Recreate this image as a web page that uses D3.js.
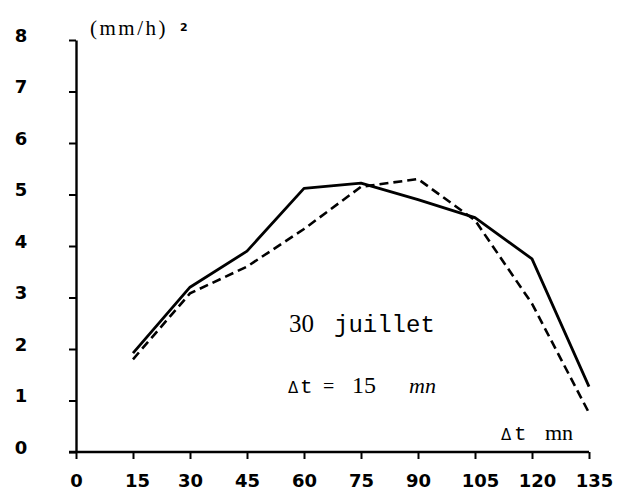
<!DOCTYPE html>
<html>
<head>
<meta charset="utf-8">
<script src="https://cdn.jsdelivr.net/npm/d3@7"></script>
<style>
  html, body { margin: 0; padding: 0; background: #fff; }
  svg { display: block; }
</style>
</head>
<body>
<svg id="chart" width="637" height="496"></svg>
<script>
// ---- data ----
const minutes = [15, 30, 45, 60, 75, 90, 105, 120, 135];
const solidSeries = [1.92, 3.2, 3.9, 5.12, 5.22, 4.9, 4.55, 3.75, 1.27];
const dashedSeries = [1.8, 3.08, 3.6, 4.33, 5.15, 5.3, 4.5, 2.88, 0.76];
const xTicks = [0, 15, 30, 45, 60, 75, 90, 105, 120, 135];
const yTicks = [0, 1, 2, 3, 4, 5, 6, 7, 8];

const svg = d3.select("#chart");
const x = d3.scaleLinear().domain([0, 135]).range([76, 589]);
const y = d3.scaleLinear().domain([0, 8]).range([452, 40]);

const tickFont = "'DejaVu Sans', sans-serif";

// x axis
const gx = svg.append("g")
  .attr("transform", `translate(0,${y(0)})`)
  .call(d3.axisBottom(x).tickValues(xTicks).tickSize(7).tickSizeOuter(0).tickFormat(d3.format("d")));
gx.select(".domain").attr("stroke", "#000").attr("stroke-width", 2.4)
  .attr("d", `M${x(0) - 7},0H${x(135)}`);
gx.selectAll(".tick line").attr("stroke", "#000").attr("stroke-width", 2);
gx.selectAll(".tick text")
  .attr("y", 22).attr("dy", "0.71em")
  .attr("dx", d => (d >= 100 ? 5 : (d === 15 ? 4 : 0)))
  .attr("fill", "#000")
  .style("font-family", tickFont).style("font-weight", "bold").style("font-size", "18px");

// y axis
const gy = svg.append("g")
  .attr("transform", `translate(${x(0)},0)`)
  .call(d3.axisLeft(y).tickValues(yTicks).tickSize(7).tickSizeOuter(0).tickFormat(d3.format("d")));
gy.select(".domain").attr("stroke", "#000").attr("stroke-width", 2.4);
gy.selectAll(".tick line").attr("stroke", "#000").attr("stroke-width", 2);
gy.selectAll(".tick text")
  .attr("x", -55).attr("dy", "0.06em")
  .attr("text-anchor", "middle")
  .attr("fill", "#000")
  .style("font-family", tickFont).style("font-weight", "bold").style("font-size", "18px");

// lines
const line = d3.line().x((d, i) => x(minutes[i])).y(d => y(d));
svg.append("path").datum(dashedSeries)
  .attr("d", line).attr("fill", "none").attr("stroke", "#000")
  .attr("stroke-width", 2.6).attr("stroke-dasharray", "9,5");
svg.append("path").datum(solidSeries)
  .attr("d", line).attr("fill", "none").attr("stroke", "#000")
  .attr("stroke-width", 2.8).attr("stroke-linejoin", "round");

// unit label
const serif = "'Liberation Serif', 'Times New Roman', serif";
const mono = "'Liberation Mono', 'Courier New', monospace";
svg.append("text").attr("x", 90).attr("y", 35)
  .style("font-family", serif).style("font-size", "21px").style("letter-spacing", "2.5px")
  .text("(mm/h)");
svg.append("text").attr("x", 180).attr("y", 31)
  .style("font-family", tickFont).style("font-weight", "bold").style("font-size", "11px")
  .text("2");

// annotations
const t1 = svg.append("text").attr("y", 332).style("font-size", "24px");
t1.append("tspan").attr("x", 289).style("font-family", serif).style("font-size", "25px").text("30");
t1.append("tspan").attr("x", 334).style("font-family", mono).text("juillet");

const t2 = svg.append("text").attr("y", 393).style("font-size", "22px");
t2.append("tspan").attr("x", 288).style("font-family", "'DejaVu Sans', sans-serif").style("font-size", "15px").text("Δ");
t2.append("tspan").attr("x", 300).style("font-family", mono).style("font-size", "21px").text("t");
t2.append("tspan").attr("x", 323).style("font-family", serif).style("font-size", "20px").text("=");
t2.append("tspan").attr("x", 352).style("font-family", serif).style("font-size", "24px").text("15");
t2.append("tspan").attr("x", 409).style("font-family", serif).style("font-style", "italic").style("font-size", "22px").text("mn");

const t3 = svg.append("text").attr("y", 440).style("font-size", "20px");
t3.append("tspan").attr("x", 501).style("font-family", "'DejaVu Sans', sans-serif").style("font-size", "15px").text("Δ");
t3.append("tspan").attr("x", 514).style("font-family", mono).style("font-size", "21px").text("t");
t3.append("tspan").attr("x", 545).style("font-family", serif).style("font-size", "22px").text("mn");
</script>
</body>
</html>
